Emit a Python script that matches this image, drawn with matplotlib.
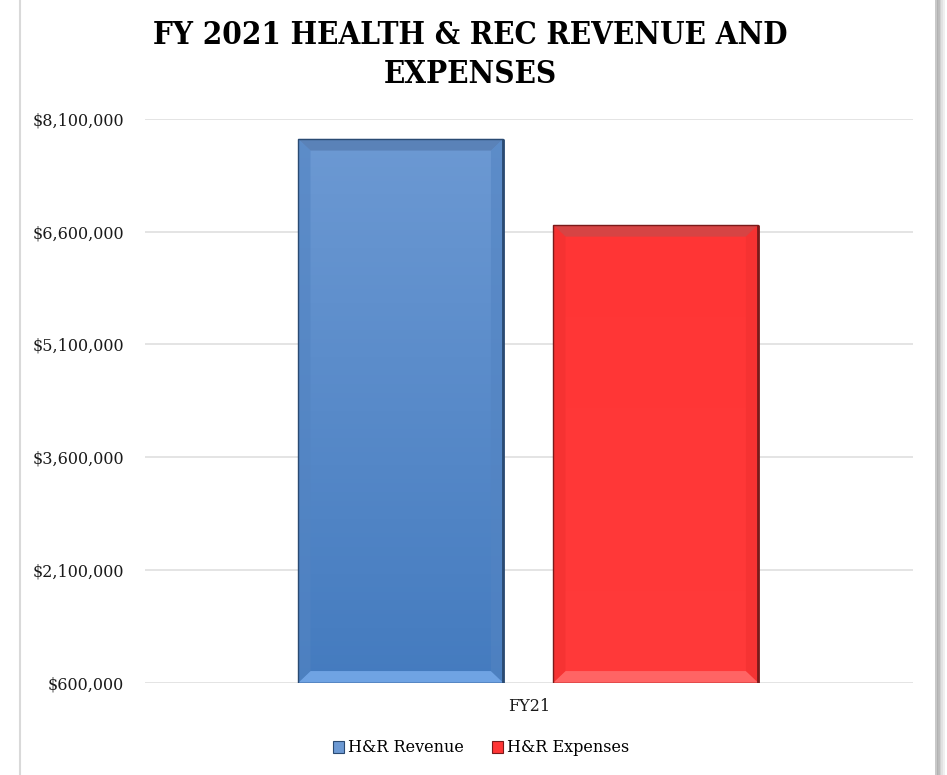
import matplotlib
matplotlib.use("Agg")
import matplotlib.pyplot as plt
import numpy as np
from matplotlib.patches import Rectangle, Polygon
from matplotlib.colors import LinearSegmentedColormap
from matplotlib.ticker import FuncFormatter

# ---- data ----
categories = ["FY21"]
series_names = ["H&R Revenue", "H&R Expenses"]
revenue = [7835000]
expenses = [6690000]
y_ticks = [600000, 2100000, 3600000, 5100000, 6600000, 8100000]
title = "FY 2021 HEALTH & REC REVENUE AND\nEXPENSES"

W, H = 947, 775
fig = plt.figure(figsize=(W / 100, H / 100), dpi=100)
fig.patch.set_facecolor("white")

ax = fig.add_axes([145 / W, 1 - 682.7 / H, (913 - 145) / W, (682.7 - 119) / H])
ax.set_xlim(-0.5, 0.5)
ax.set_ylim(y_ticks[0], y_ticks[-1])
ax.set_yticks(y_ticks)
ax.yaxis.set_major_formatter(FuncFormatter(lambda v, p: "${:,.0f}".format(v)))
ax.grid(axis="y", color="#dcdcdc", linewidth=1.1)
ax.set_axisbelow(True)
for s in ax.spines.values():
    s.set_visible(False)
ax.tick_params(axis="y", length=0, pad=15, labelsize=11.5, labelcolor="#1a1a1a")
ax.tick_params(axis="x", length=0, pad=11, labelsize=11.5, labelcolor="#1a1a1a")
for lab in ax.get_yticklabels():
    lab.set_family("DejaVu Serif")
ax.set_xticks([0])
ax.set_xticklabels(categories, family="DejaVu Serif")

bw = 0.267
offsets = [-0.167, 0.165]
styles = [
    dict(top="#6c99d3", bot="#447bbf", bev_top="#5a82b8", bev_bot="#6fa3e3", side="#5384c2", edge="#2a4a72"),
    dict(top="#ff3535", bot="#ff3a3a", bev_top="#d64444", bev_bot="#ff6464", side="#f03030", edge="#7a1a1a"),
]
values = [revenue, expenses]
base = y_ticks[0]
bx = 0.016
by = 155000

handles = []
for vals, off, st, name in zip(values, offsets, styles, series_names):
    for i, v in enumerate(vals):
        x0 = i + off - bw / 2
        x1 = x0 + bw
        bar = ax.bar(i + off, v - base, bottom=base, width=bw, color=st["top"],
                     edgecolor="none", zorder=2, label=name)
        cmap = LinearSegmentedColormap.from_list("g", [st["bot"], st["top"]])
        grad = np.linspace(0, 1, 256).reshape(-1, 1)
        im = ax.imshow(grad, extent=[x0, x1, base, v], origin="lower", cmap=cmap,
                       aspect="auto", zorder=3)
        im.set_clip_path(bar.patches[0])
        # bevels
        ax.add_patch(Polygon([(x0, v), (x1, v), (x1 - bx, v - by), (x0 + bx, v - by)],
                             closed=True, fc=st["bev_top"], ec="none", zorder=4))
        ax.add_patch(Polygon([(x0, base), (x1, base), (x1 - bx, base + by), (x0 + bx, base + by)],
                             closed=True, fc=st["bev_bot"], ec="none", zorder=4))
        ax.add_patch(Polygon([(x0, base), (x0 + bx, base + by), (x0 + bx, v - by), (x0, v)],
                             closed=True, fc=st["side"], ec="none", alpha=0.6, zorder=4))
        ax.add_patch(Polygon([(x1, base), (x1 - bx, base + by), (x1 - bx, v - by), (x1, v)],
                             closed=True, fc=st["side"], ec="none", alpha=0.6, zorder=4))
        ax.add_patch(Rectangle((x0, base), bw, v - base, fill=False, ec=st["edge"],
                               lw=1.0, zorder=5))
        ax.plot([x1, x1], [base, v], color=st["edge"], lw=2, zorder=5, solid_capstyle="butt")
    handles.append(Rectangle((0, 0), 1, 1, fc=st["top"], ec=st["edge"], lw=0.8))

ax.set_xlim(-0.5, 0.5)
ax.set_ylim(y_ticks[0], y_ticks[-1])

fig.legend(handles, series_names, loc="center", bbox_to_anchor=(481 / W, 1 - 748 / H),
           ncol=2, frameon=False, handlelength=0.7, handleheight=0.7,
           handletextpad=0.2, columnspacing=1.8, prop=dict(family="DejaVu Serif", size=11.5))

fig.text(470 / W, 1 - 55 / H, title, ha="center", va="center", fontsize=22.5, fontweight="bold",
         family="DejaVu Serif", fontstretch="condensed", linespacing=1.3)

# chart border and shadow
fig.add_artist(plt.Line2D([20 / W, 20 / W], [0, 1], color="#d9d9d9", lw=1.5, transform=fig.transFigure))
for k, c in enumerate(["#c8c8c8", "#b0b0b0", "#bdbdbd", "#d0d0d0", "#e2e2e2", "#efefef"]):
    x = (936 + k * 1.6) / W
    fig.add_artist(plt.Line2D([x, x], [0, 1], color=c, lw=1.4, transform=fig.transFigure))

fig.savefig("out.png", dpi=100, facecolor="white")
